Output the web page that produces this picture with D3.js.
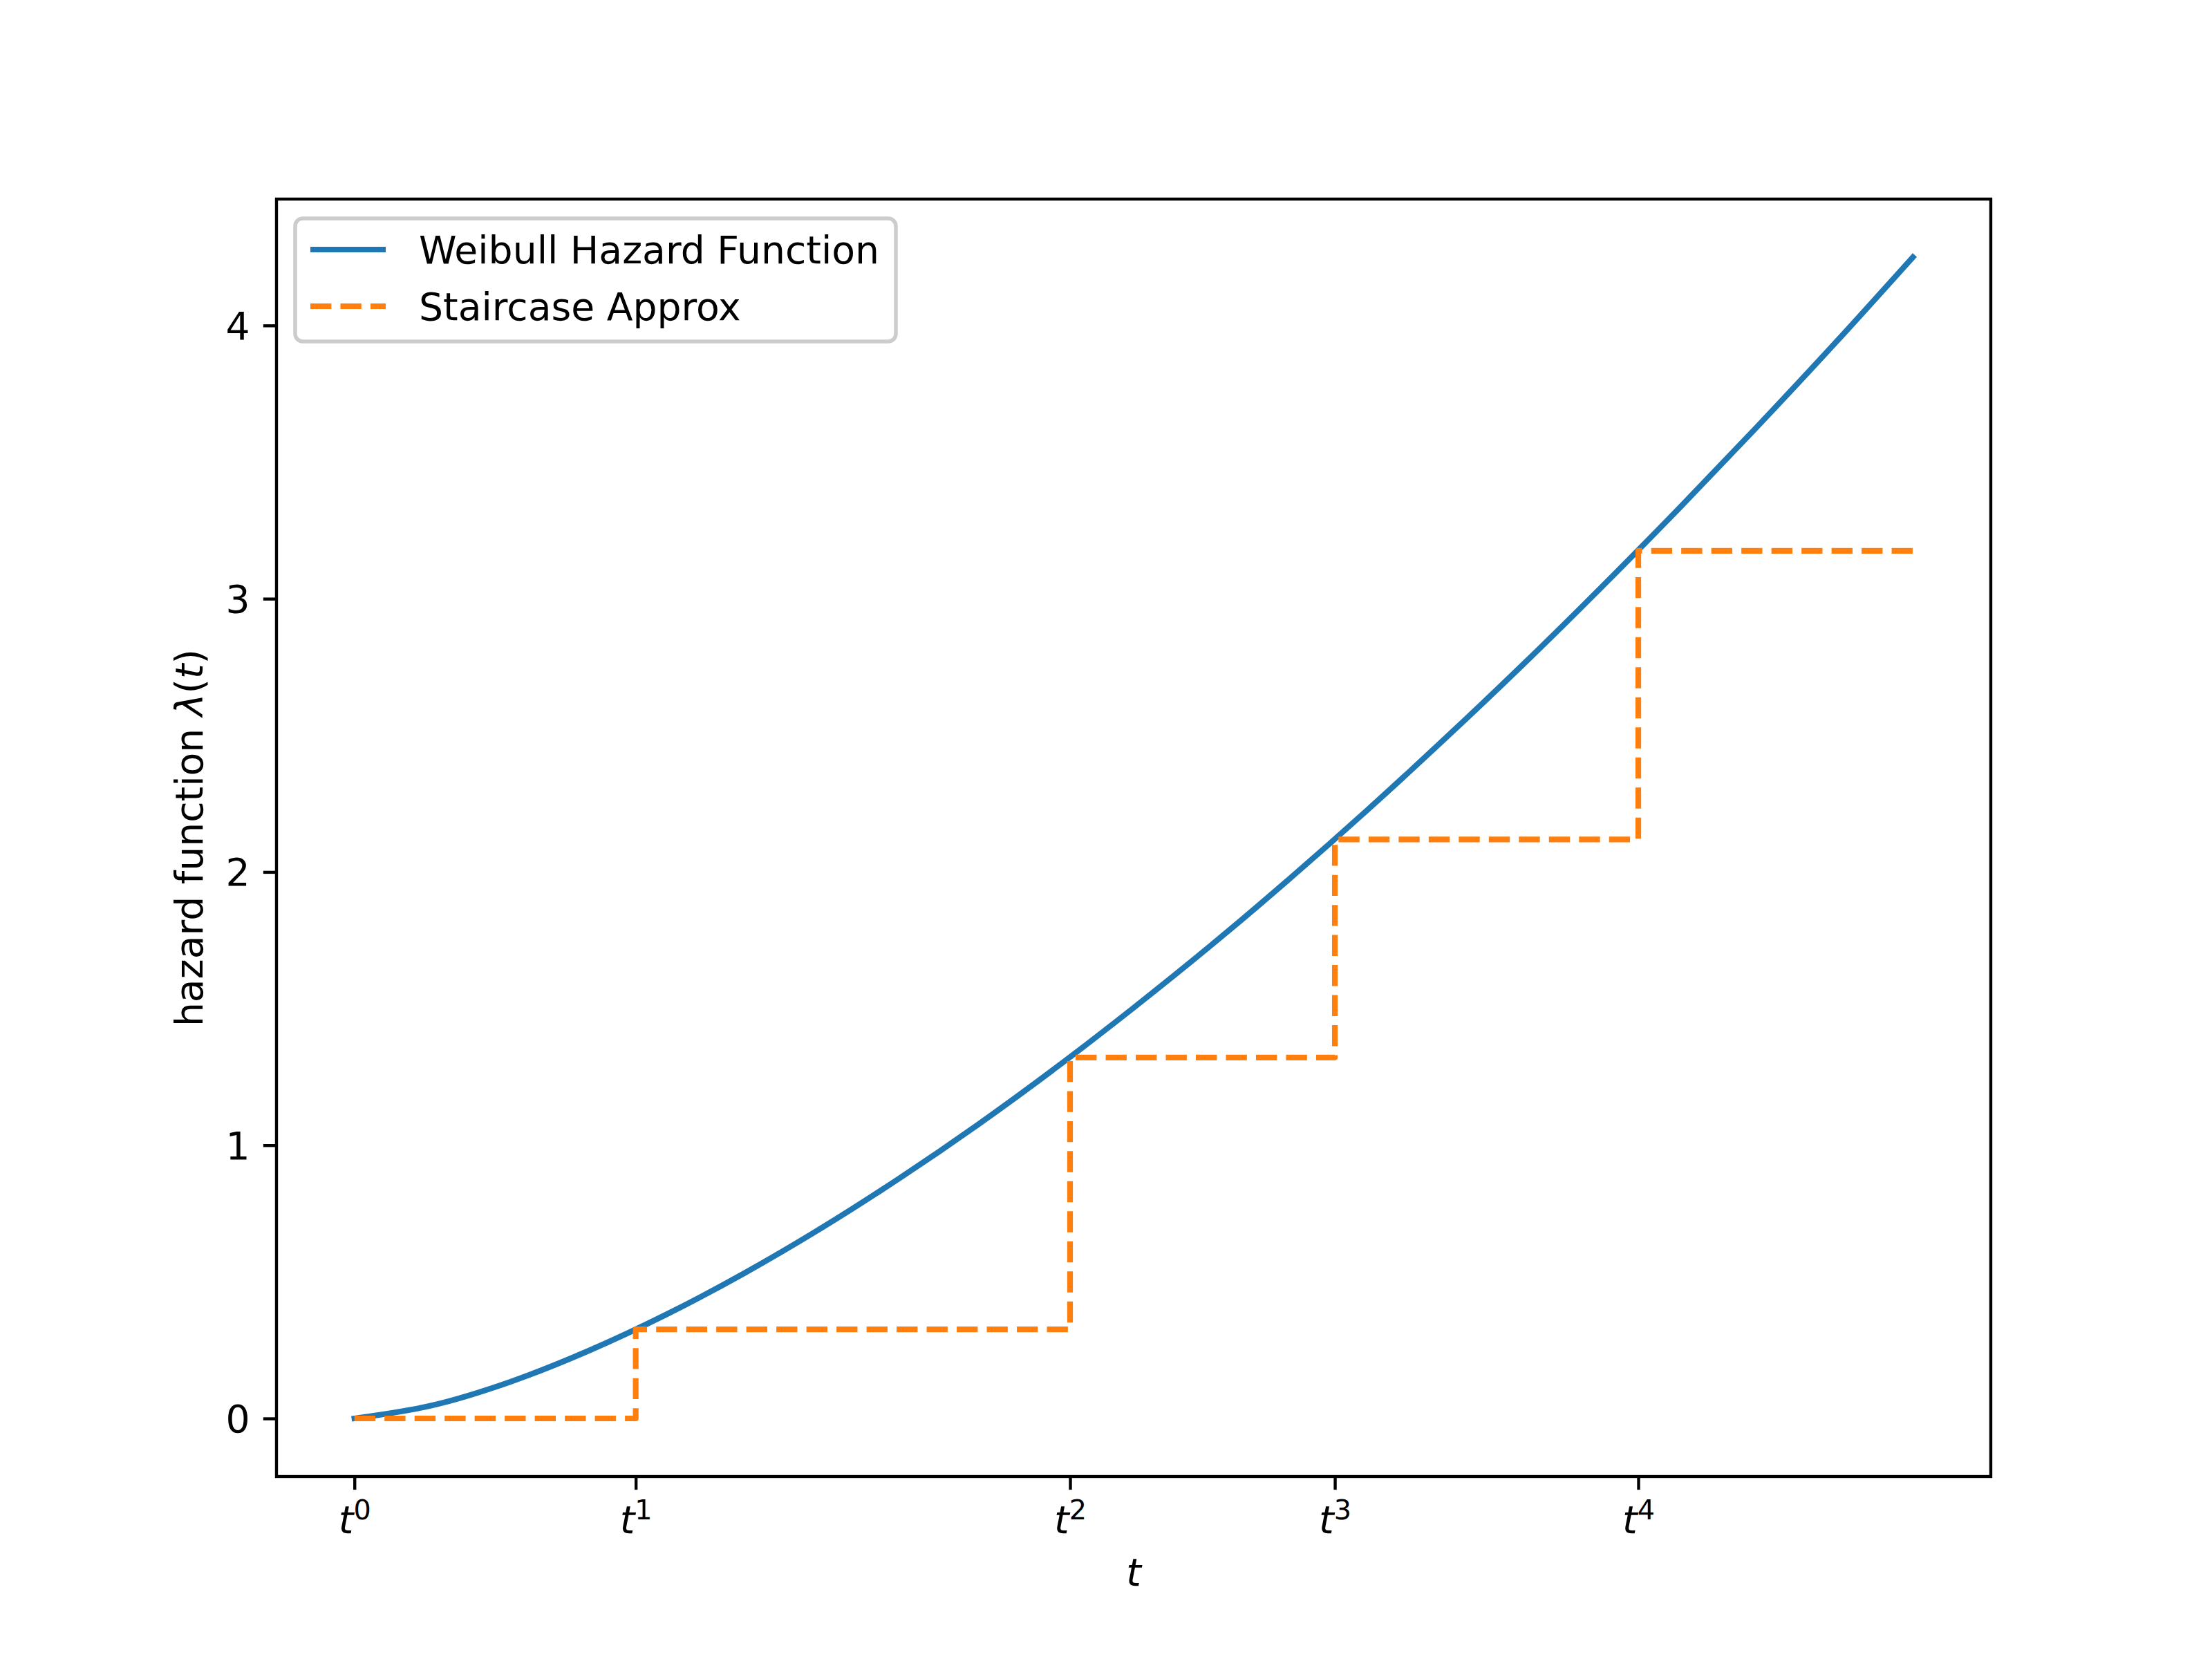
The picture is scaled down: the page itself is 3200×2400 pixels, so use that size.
<!DOCTYPE html>
<html><head><meta charset="utf-8">
<script src="https://cdn.jsdelivr.net/npm/d3@7"></script>
<style>html,body{margin:0;padding:0;background:#fff;} svg{display:block;} text{font-family:"DejaVu Sans",sans-serif;}</style>
</head><body>
<script>
// Weibull hazard curve values
const curveT = [0,0.5,1,1.5,2,2.5,3,3.5,4,4.5,5,5.5,6,6.5,7,7.5,8,8.5,9,9.5,10];
const curveH = [0,0.048,0.134,0.247,0.380,0.531,0.698,0.880,1.075,1.283,1.503,1.733,1.975,2.227,2.489,2.760,3.041,3.331,3.629,3.935,4.25];
// staircase approximation
const stepT = [0,1.805,4.592,6.291,8.238,10];
const stepH = [0,0.326,1.321,2.119,3.175,3.175];
// ticks
const xTickVals = [0,1.805,4.592,6.291,8.238];
const xTickSup = ["0","1","2","3","4"];
const yTickVals = [0,1,2,3,4];
const seriesNames = ["Weibull Hazard Function","Staircase Approx"];
const seriesColors = ["#1f77b4","#ff7f0e"];

const W=3200,H=2400, L=400,R=2880,T=288,B=2136;
const pt=5.47;
const fs=55.2;
const svg=d3.select("body").append("svg").attr("width",W).attr("height",H);
svg.append("rect").attr("width",W).attr("height",H).attr("fill","#fff");

const x=d3.scaleLinear().domain([-0.5,10.5]).range([L,R]);
const y=d3.scaleLinear().domain([-0.2125,4.4625]).range([B,T]);

const g=svg.append("g");
const curveData=curveT.map((t,i)=>[t,curveH[i]]);
const stepData=stepT.map((t,i)=>[t,stepH[i]]);

g.append("path").datum(curveData)
 .attr("d",d3.line().x(d=>x(d[0])).y(d=>y(d[1])).curve(d3.curveMonotoneX))
 .attr("fill","none").attr("stroke",seriesColors[0]).attr("stroke-width",1.5*pt)
 .attr("stroke-linecap","square").attr("stroke-linejoin","round");
g.append("path").datum(stepData)
 .attr("d",d3.line().x(d=>x(d[0])).y(d=>y(d[1])).curve(d3.curveStepAfter))
 .attr("fill","none").attr("stroke",seriesColors[1]).attr("stroke-width",1.5*pt)
 .attr("stroke-dasharray",`${5.55*pt},${2.4*pt}`)
 .attr("stroke-linecap","butt").attr("stroke-linejoin","round");

// axes
const yAxis=d3.axisLeft(y).tickValues(yTickVals).tickFormat(d3.format("d")).tickSize(3.5*pt).tickPadding(3.5*pt);
const ya=svg.append("g").attr("transform",`translate(${L},0)`).call(yAxis);
ya.select(".domain").remove();
ya.selectAll(".tick line").attr("stroke","#000").attr("stroke-width",0.8*pt);
ya.selectAll(".tick text").attr("font-size",fs).attr("fill","#000").attr("font-family","DejaVu Sans").attr("dy","0.35em");

const xAxis=d3.axisBottom(x).tickValues(xTickVals).tickSize(3.5*pt).tickFormat("");
const xa=svg.append("g").attr("transform",`translate(0,${B})`).call(xAxis);
xa.select(".domain").remove();
xa.selectAll(".tick line").attr("stroke","#000").attr("stroke-width",0.8*pt);
xa.selectAll(".tick").each(function(d,i){
  const t=d3.select(this).append("text").attr("y",82).attr("text-anchor","middle").attr("fill","#000").attr("font-size",fs);
  t.append("tspan").attr("font-style","italic").text("t");
  t.append("tspan").attr("font-size",fs*0.72).attr("dy",-20).text(xTickSup[i]);
});

// frame
svg.append("rect").attr("x",L).attr("y",T).attr("width",R-L).attr("height",B-T)
 .attr("fill","none").attr("stroke","#000").attr("stroke-width",0.8*pt);

// axis labels
svg.append("text").attr("x",(L+R)/2).attr("y",2294).attr("text-anchor","middle")
 .attr("font-size",fs).attr("font-style","italic").text("t");
const yl=svg.append("text").attr("transform",`translate(293,${(T+B)/2}) rotate(-90)`)
 .attr("text-anchor","middle").attr("font-size",fs);
yl.append("tspan").text("hazard function ");
yl.append("tspan").attr("font-style","italic").text("λ");
yl.append("tspan").text("(");
yl.append("tspan").attr("font-style","italic").text("t");
yl.append("tspan").text(")");

// legend
const lg=svg.append("g");
lg.append("rect").attr("x",427).attr("y",316).attr("width",869).attr("height",178).attr("rx",11).attr("ry",11)
 .attr("fill","#fff").attr("fill-opacity",0.8).attr("stroke","#cccccc").attr("stroke-width",1.0*pt);
const rows=[361,443];
seriesNames.forEach((n,i)=>{
  const ln=lg.append("line").attr("x1",449).attr("x2",558).attr("y1",rows[i]).attr("y2",rows[i])
   .attr("stroke",seriesColors[i]).attr("stroke-width",1.5*pt);
  if(i===1) ln.attr("stroke-dasharray",`${5.55*pt},${2.4*pt}`);
  lg.append("text").attr("x",606).attr("y",rows[i]).attr("dy","0.36em").attr("font-size",fs).attr("fill","#000").text(n);
});
</script>
</body></html>
